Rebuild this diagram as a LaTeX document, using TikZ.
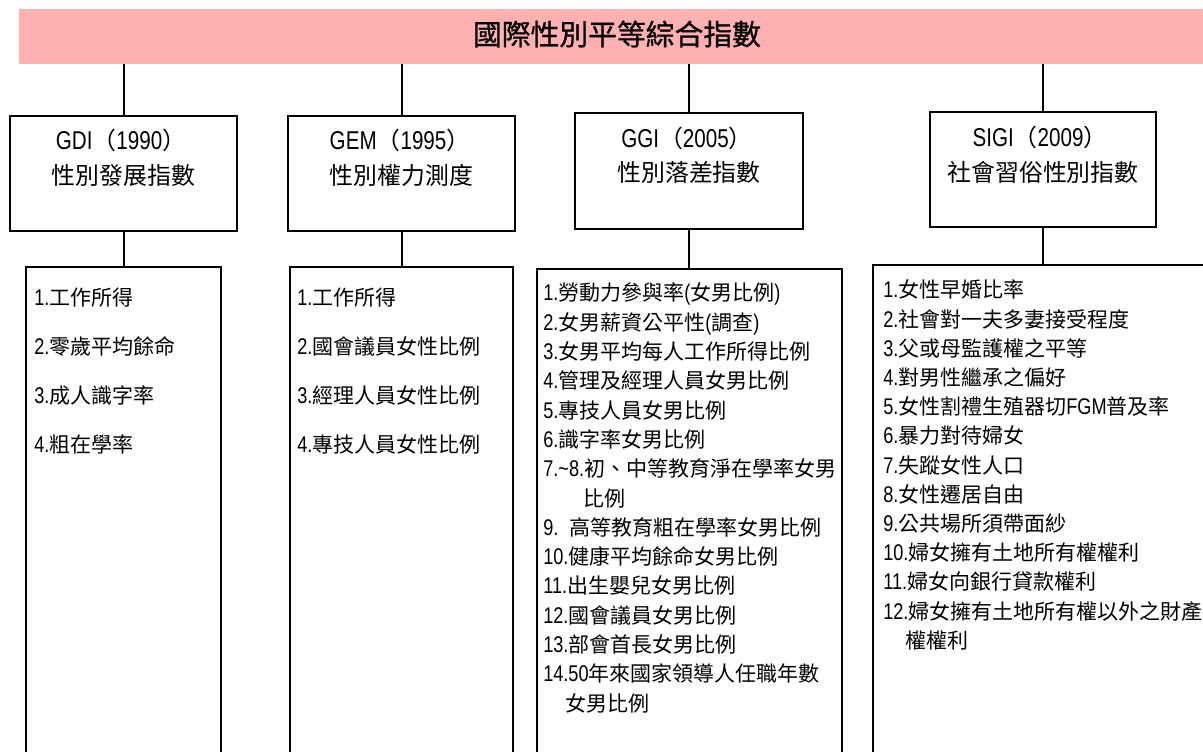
\documentclass[tikz,border=0pt]{standalone}
\usepackage{fontspec}
\setmainfont{Noto Sans CJK TC}
\newfontfamily\titlefont{Noto Sans CJK TC}[FakeBold=0.9]
\newfontfamily\latfont{Liberation Sans}[FakeStretch=0.8,Scale=1.08]
\newcommand\ltn[1]{{\latfont #1}}
\definecolor{bannerpink}{HTML}{FFB0B0}
\begin{document}
\begin{tikzpicture}[x=0.75pt,y=-0.75pt,
  pbox/.style n args={2}{minimum width=#1*0.75pt, minimum height=#2*0.75pt},
  banner/.style={fill=bannerpink, inner sep=0pt},
  titletext/.style={inner sep=0pt, font=\titlefont\fontsize{21.6pt}{24pt}\selectfont},
  idxbox/.style={draw, line width=1.5pt, inner sep=0pt},
  listbox/.style={draw, line width=1.5pt, inner sep=0pt},
  conn/.style={line width=1.5pt},
  headtext/.style={inner sep=0pt, font=\fontsize{17.9pt}{20pt}\selectfont, text height=15.75pt, text depth=2.15pt},
  item/.style={anchor=west, inner sep=0pt, font=\fontsize{15.75pt}{18pt}\selectfont, text height=13.86pt, text depth=1.89pt}
]
\useasboundingbox (0,0) rectangle (1203,751);
\clip (0,0) rectangle (1203,751);

% banner
\node[banner, pbox={1196}{55}] (top) at (617,36.5) {};
\node[titletext] (title) at (617,34) {國際性別平等綜合指數};

% index boxes
\node[idxbox, pbox={227}{115}] (gdi) at (123.5,173.5) {};
\node[idxbox, pbox={227}{115}] (gem) at (401.5,173.5) {};
\node[idxbox, pbox={228}{116}] (ggi) at (689,171) {};
\node[idxbox, pbox={226}{115}] (sigi) at (1043,169.5) {};

\node[headtext] (gdiA) at (121,140) {\ltn{GDI}（\ltn{1990}）};
\node[headtext] (gdiB) at (123.5,175) {性別發展指數};
\node[headtext] (gemA) at (400,140) {\ltn{GEM}（\ltn{1995}）};
\node[headtext] (gemB) at (401.5,175) {性別權力測度};
\node[headtext] (ggiA) at (687,138) {\ltn{GGI}（\ltn{2005}）};
\node[headtext] (ggiB) at (689,172) {性別落差指數};
\node[headtext] (sigiA) at (1040,137) {\ltn{SIGI}（\ltn{2009}）};
\node[headtext] (sigiB) at (1043,172) {社會習俗性別指數};

% list boxes
\node[listbox, pbox={195.4}{493}] (gdiL) at (123.3,513.5) {};
\node[listbox, pbox={223}{493}] (gemL) at (401.5,513.5) {};
\node[listbox, pbox={305}{491}] (ggiL) at (689.5,514.5) {};
\node[listbox, pbox={342}{495}] (sigiL) at (1044,512.5) {};

% connectors
\draw[conn] (gdi.north) -- (gdi.north |- top.south);
\draw[conn] (gem.north) -- (gem.north |- top.south);
\draw[conn] (ggi.north) -- (ggi.north |- top.south);
\draw[conn] (sigi.north) -- (sigi.north |- top.south);
\draw[conn] (gdi.south) -- (gdi.south |- gdiL.north);
\draw[conn] (gem.south) -- (gem.south |- gemL.north);
\draw[conn] (ggi.south) -- (ggi.south |- ggiL.north);
\draw[conn] (sigi.south) -- (sigi.south |- sigiL.north);

% GDI items
\node[item] (gdi1) at (34,298) {\ltn{1.}工作所得};
\node[item] (gdi2) at (34,347) {\ltn{2.}零歲平均餘命};
\node[item] (gdi3) at (34,396) {\ltn{3.}成人識字率};
\node[item] (gdi4) at (34,445) {\ltn{4.}粗在學率};

% GEM items
\node[item] (gem1) at (297,298) {\ltn{1.}工作所得};
\node[item] (gem2) at (297,347) {\ltn{2.}國會議員女性比例};
\node[item] (gem3) at (297,396) {\ltn{3.}經理人員女性比例};
\node[item] (gem4) at (297,445) {\ltn{4.}專技人員女性比例};

% GGI items
\node[item] (ggi1) at (543,293) {\ltn{1.}勞動力參與率\ltn{(}女男比例\ltn{)}};
\node[item] (ggi2) at (543,322.3) {\ltn{2.}女男薪資公平性\ltn{(}調查\ltn{)}};
\node[item] (ggi3) at (543,351.6) {\ltn{3.}女男平均每人工作所得比例};
\node[item] (ggi4) at (543,380.9) {\ltn{4.}管理及經理人員女男比例};
\node[item] (ggi5) at (543,410.2) {\ltn{5.}專技人員女男比例};
\node[item] (ggi6) at (543,439.5) {\ltn{6.}識字率女男比例};
\node[item] (ggi7) at (543,468.8) {\ltn{7.\char`\~8.}初、中等教育淨在學率女男};
\node[item] (ggi7b) at (583,498.1) {比例};
\node[item] (ggi9) at (543,527.4) {\ltn{9.}\hspace{8pt}高等教育粗在學率女男比例};
\node[item] (ggi10) at (543,556.7) {\ltn{10.}健康平均餘命女男比例};
\node[item] (ggi11) at (543,586) {\ltn{11.}出生嬰兒女男比例};
\node[item] (ggi12) at (543,615.3) {\ltn{12.}國會議員女男比例};
\node[item] (ggi13) at (543,644.6) {\ltn{13.}部會首長女男比例};
\node[item] (ggi14) at (543,673.9) {\ltn{14.50}年來國家領導人任職年數};
\node[item] (ggi14b) at (565,703.2) {女男比例};

% SIGI items
\node[item] (sigi1) at (883,290) {\ltn{1.}女性早婚比率};
\node[item] (sigi2) at (883,319.2) {\ltn{2.}社會對一夫多妻接受程度};
\node[item] (sigi3) at (883,348.4) {\ltn{3.}父或母監護權之平等};
\node[item] (sigi4) at (883,377.6) {\ltn{4.}對男性繼承之偏好};
\node[item] (sigi5) at (883,406.8) {\ltn{5.}女性割禮生殖器切\ltn{FGM}普及率};
\node[item] (sigi6) at (883,436) {\ltn{6.}暴力對待婦女};
\node[item] (sigi7) at (883,465.2) {\ltn{7.}失蹤女性人口};
\node[item] (sigi8) at (883,494.4) {\ltn{8.}女性遷居自由};
\node[item] (sigi9) at (883,523.6) {\ltn{9.}公共場所須帶面紗};
\node[item] (sigi10) at (883,552.8) {\ltn{10.}婦女擁有土地所有權權利};
\node[item] (sigi11) at (883,582) {\ltn{11.}婦女向銀行貸款權利};
\node[item] (sigi12) at (883,611.2) {\ltn{12.}婦女擁有土地所有權以外之財產};
\node[item] (sigi12b) at (905,640.4) {權權利};
\end{tikzpicture}
\end{document}
